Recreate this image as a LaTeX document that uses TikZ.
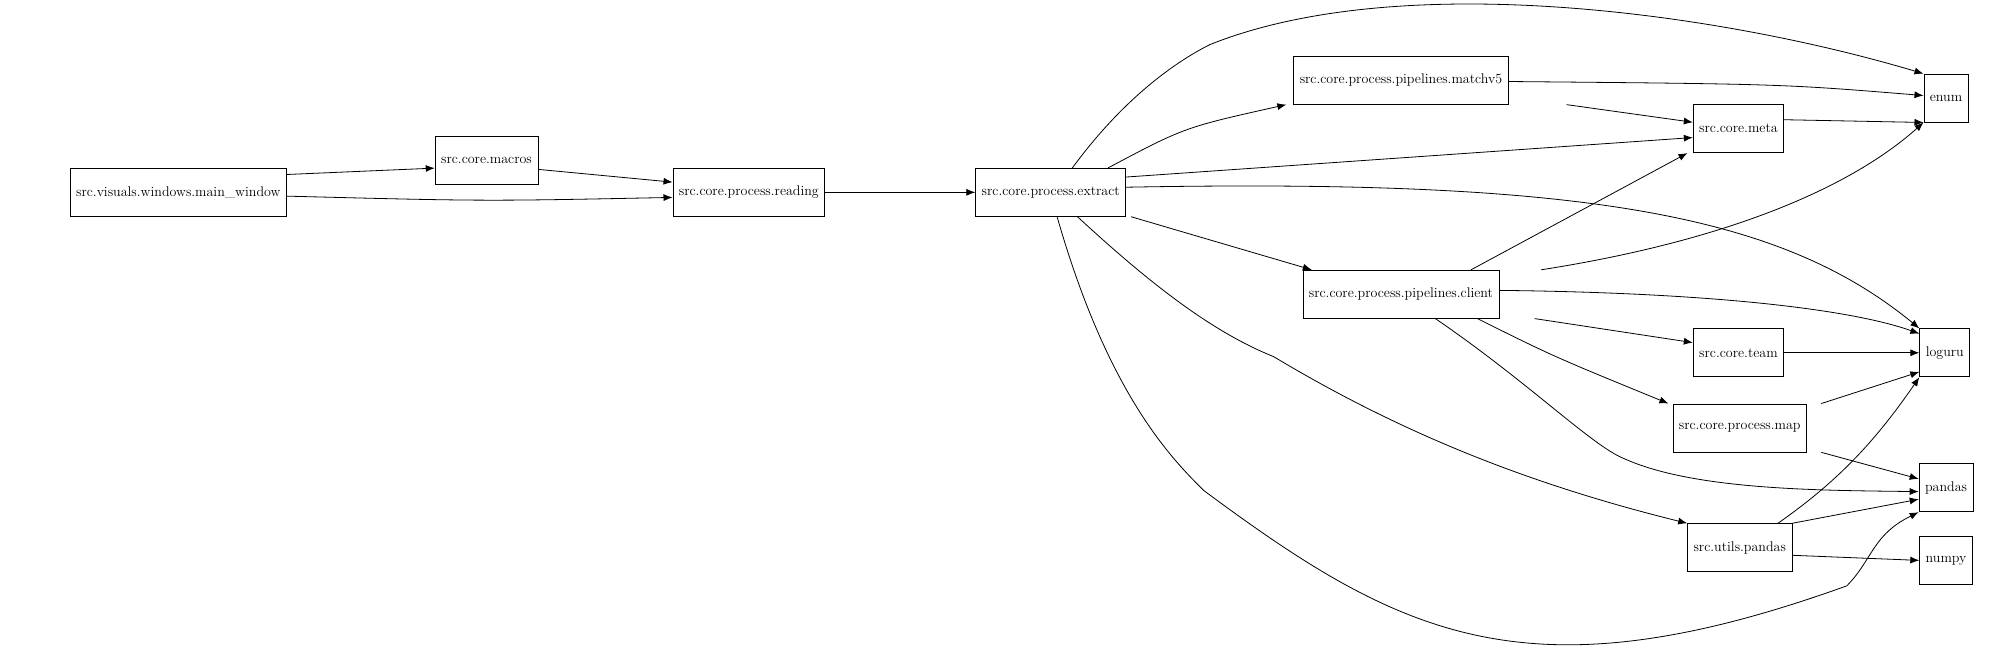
\documentclass[tikz,border=0pt]{standalone}
\usetikzlibrary{arrows.meta}
\begin{document}
\begin{tikzpicture}[x=1.274pt, y=-1.274pt, >={Latex[length=9pt,width=7pt]},
  mod/.style={draw, thick, inner xsep=6pt, minimum height=48pt,
              font=\fontsize{14}{16}\selectfont},
  dep/.style={->, thick}]
  \useasboundingbox (0,0) rectangle (1568,520);

  % Module
  \node[mod] (mainwin) at (140,151) {src.visuals.windows.main\_window};
  \node[mod] (macros) at (382,126) {src.core.macros};
  \node[mod] (reading) at (588,151) {src.core.process.reading};
  \node[mod] (extract) at (825,151) {src.core.process.extract};
  \node[mod] (matchv5) at (1100,63) {src.core.process.pipelines.matchv5};
  \node[mod] (meta) at (1365,101) {src.core.meta};
  \node[mod] (enum) at (1528,77) {enum};
  \node[mod] (client) at (1100,231) {src.core.process.pipelines.client};
  \node[mod] (loguru) at (1527,277) {loguru};
  \node[mod] (team) at (1365,277) {src.core.team};
  \node[mod] (map) at (1366,336) {src.core.process.map};
  \node[mod] (pandas) at (1528,383) {pandas};
  \node[mod] (upandas) at (1366,430) {src.utils.pandas};
  \node[mod] (numpy) at (1528,440) {numpy};

  % Abhaengigkeiten
  \draw[dep] (mainwin.east |- 0,137) -- (macros.west |- 0,132);
  \draw[dep] (mainwin.east |- 0,154) .. controls (380,158) .. (reading.west |- 0,155);
  \draw[dep] (macros.east |- 0,133) -- (reading.west |- 0,143);
  \draw[dep] (reading) -- (extract);
  \draw[dep] (extract.north -| 870,0) .. controls (930,100) .. (matchv5.south -| 1010,0);
  \draw[dep] (extract.north -| 842,0) .. controls (880,80) and (920,50) .. (950,35)
    .. controls (1100,-25) and (1350,10) .. (enum.north west);
  \draw[dep] (extract.east |- 0,139) -- (meta.west |- 0,108);
  \draw[dep] (extract.east |- 0,147) .. controls (1250,140) and (1400,170) .. (loguru.north west);
  \draw[dep] (extract.south -| 888,0) -- (client.north -| 1030,0);
  \draw[dep] (extract.south -| 846,0) .. controls (900,220) and (950,260) .. (1000,280)
    .. controls (1100,340) and (1200,380) .. (upandas.north west);
  \draw[dep] (extract.south -| 830,0) .. controls (870,310) and (920,360) .. (945,385)
    .. controls (1100,500) and (1200,550) .. (1450,460)
    .. controls (1470,440) and (1470,420) .. (pandas.south west);
  \draw[dep] (matchv5.east |- 0,64) .. controls (1400,66) .. (enum.west |- 0,75);
  \draw[dep] (matchv5.south -| 1230,0) -- (meta.west |- 0,96);
  \draw[dep] (meta.east |- 0,94) -- (enum.south west);
  \draw[dep] (client.north -| 1155,0) -- (meta.south -| 1325,0);
  \draw[dep] (client.north -| 1210,0) .. controls (1350,190) and (1450,150) .. (enum.south west);
  \draw[dep] (client.east |- 0,228) .. controls (1360,230) and (1460,245) .. (loguru.west |- 0,262);
  \draw[dep] (client.south -| 1205,0) -- (team.west |- 0,269);
  \draw[dep] (client.south -| 1160,0) .. controls (1220,280) .. (map.north -| 1310,0);
  \draw[dep] (client.south -| 1127,0) .. controls (1200,300) and (1250,350) .. (1275,360)
    .. controls (1330,385) and (1430,385) .. (pandas.west |- 0,386);
  \draw[dep] (team) -- (loguru);
  \draw[dep] (map.north -| 1430,0) -- (loguru.west |- 0,292);
  \draw[dep] (map.south -| 1430,0) -- (pandas.west |- 0,376);
  \draw[dep] (upandas.north -| 1396,0) .. controls (1440,380) and (1470,350) .. (loguru.south west);
  \draw[dep] (upandas.north east) -- (pandas.west |- 0,392);
  \draw[dep] (upandas.east |- 0,436) -- (numpy.west |- 0,440);
\end{tikzpicture}
\end{document}
